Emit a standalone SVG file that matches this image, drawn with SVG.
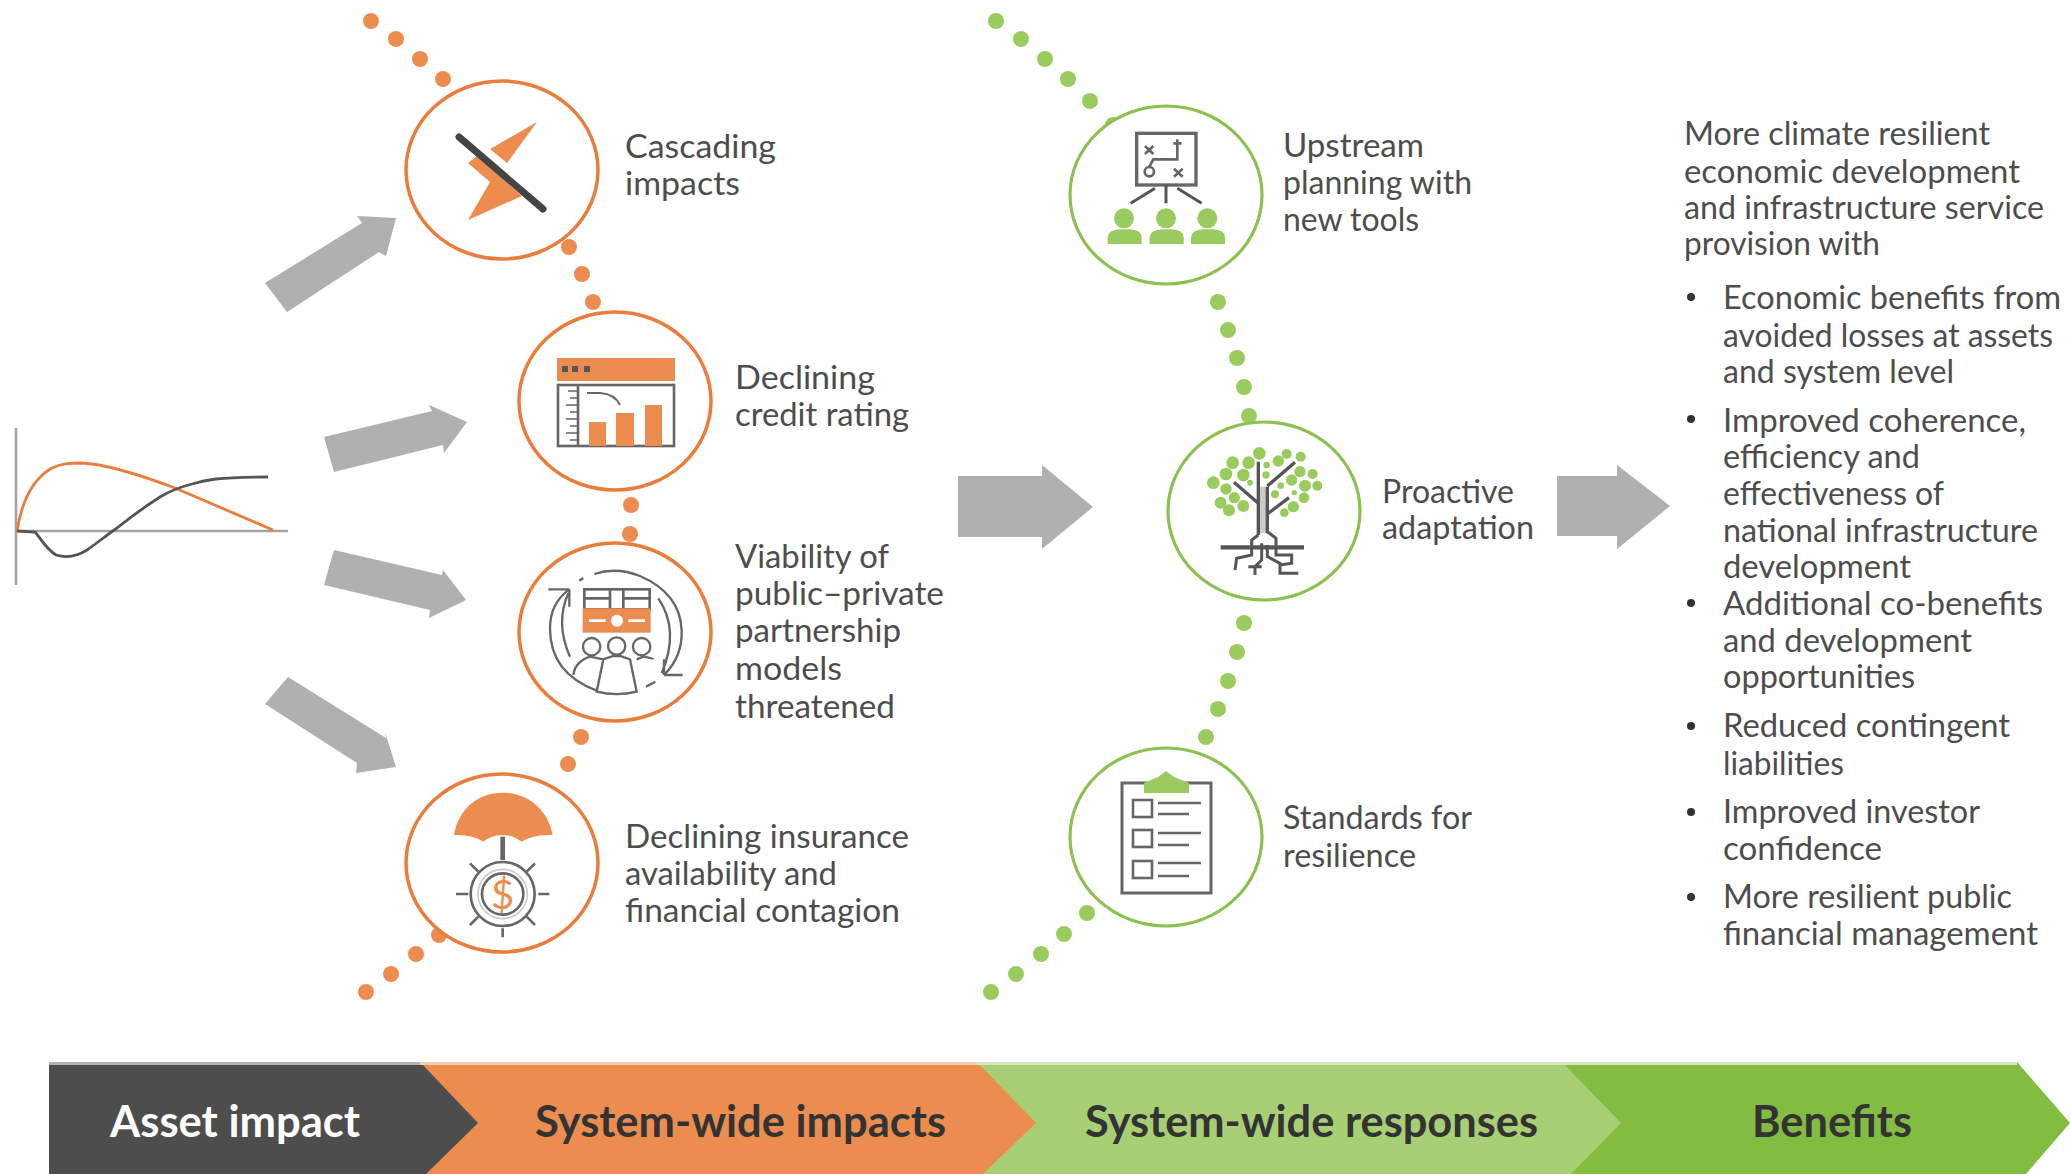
<svg xmlns="http://www.w3.org/2000/svg" width="2070" height="1174" viewBox="0 0 2070 1174">
<style>
text{font-family:"Lato","Liberation Sans",sans-serif;font-size:33.5px;fill:#4d4d4d}
.r text{font-size:32.5px}
.bn{font-weight:700;font-size:43.5px;fill:#333}
.o{fill:#ec8d4f}.g{fill:#9acb5f}.ar{fill:#b0b0b0}
.ro{fill:#fff;stroke:#ea7d3c;stroke-width:3.5}
.rg{fill:#fff;stroke:#8cc152;stroke-width:3.2}
.k{fill:none;stroke:#666;stroke-linecap:butt;stroke-linejoin:miter}
.b{fill:#333}
</style>
<rect width="2070" height="1174" fill="#fff"/>
<g id="chart" fill="none">
<path d="M16 428V585M16 531H288" stroke="#a3a3a3" stroke-width="2.6"/>
<path d="M17 531C22 500 34 478 52 468C62 463 72 463 82 463C105 464 135 473 175 488L273 530" stroke="#ea7d3c" stroke-width="2.8"/>
<path d="M17 531L35 532C42 540 46 549 56 555C66 558 76 557 87 550C97 543 107 535 117 528C132 516 146 506 160 497C170 491 180 487 192 484C205 480 217 477 268 477" stroke="#555" stroke-width="2.8"/>
</g>
<g id="connectors">
<g class="ar">
<polygon points="265,283 287,312 379,252 386,256 396,218 357,216 362,223"/>
<polygon points="324,437 334,472 443,445 444,453 467,422 429,405 432,411"/>
<polygon points="334,550 324,585 430,610 429,618 466,600 443,570 442,575"/>
<polygon points="288,677 265,704 357,763 356,773 396,767 385,732 386,738"/>
<polygon points="958,476 1042,476 1042,465 1093,507 1042,549 1042,537 958,537"/>
<polygon points="1557,476 1617,476 1617,465 1670,506 1617,549 1617,536 1557,536"/>
</g>
<g class="o">
<circle cx="371" cy="21" r="8"/><circle cx="396" cy="39" r="8"/><circle cx="420" cy="59" r="8"/><circle cx="443" cy="79" r="8"/>
<circle cx="569" cy="247" r="8"/><circle cx="582" cy="274" r="8"/><circle cx="593" cy="302" r="8"/>
<circle cx="631" cy="505" r="8"/><circle cx="630" cy="534" r="8"/>
<circle cx="581" cy="737" r="8"/><circle cx="568" cy="764" r="8"/>
<circle cx="439" cy="935" r="8"/><circle cx="416" cy="954" r="8"/><circle cx="391" cy="974" r="8"/><circle cx="366" cy="992" r="8"/>
</g>
<g class="g">
<circle cx="996" cy="21" r="8"/><circle cx="1021" cy="39" r="8"/><circle cx="1045" cy="59" r="8"/><circle cx="1068" cy="79" r="8"/><circle cx="1090" cy="101" r="8"/><circle cx="1113" cy="125" r="8"/>
<circle cx="1204" cy="268" r="8"/><circle cx="1218" cy="302" r="8"/><circle cx="1228" cy="330" r="8"/><circle cx="1237" cy="358" r="8"/><circle cx="1244" cy="387" r="8"/><circle cx="1249" cy="416" r="8"/>
<circle cx="1244" cy="623" r="8"/><circle cx="1237" cy="652" r="8"/><circle cx="1228" cy="681" r="8"/><circle cx="1218" cy="709" r="8"/><circle cx="1206" cy="737" r="8"/>
<circle cx="1087" cy="913" r="8"/><circle cx="1064" cy="934" r="8"/><circle cx="1041" cy="954" r="8"/><circle cx="1016" cy="974" r="8"/><circle cx="991" cy="992" r="8"/>
</g>
</g>
<g id="node-cascading">
<ellipse class="ro" cx="502" cy="170" rx="96" ry="89"/>
<polygon class="o" points="537,122 490,149 507,163"/>
<polygon class="o" points="468,163 477,156 522,196 468,220 490,182"/>
<path d="M459 137L543 209" stroke="#444" stroke-width="7" stroke-linecap="round"/>
<text x="625" y="158" textLength="151" lengthAdjust="spacingAndGlyphs">Cascading</text><text x="625" y="195" textLength="115" lengthAdjust="spacingAndGlyphs">impacts</text>
</g>
<g id="node-credit">
<ellipse class="ro" cx="615" cy="401" rx="96" ry="89"/>
<rect class="o" x="557" y="358" width="118" height="23"/>
<g fill="#555"><rect x="562" y="366" width="6" height="6"/><rect x="572" y="366" width="6" height="6"/><rect x="584" y="366" width="6" height="6"/></g>
<rect class="k" x="558" y="385" width="116" height="61" stroke-width="2.6"/>
<path class="k" d="M578 385V446" stroke-width="2.6"/>
<path class="k" d="M568 391H578M570 398H578M566 405H578M570 412H578M566 419H578M570 426H578M566 433H578M570 440H578" stroke-width="1.6"/>
<path class="k" d="M587 393H600Q615 394 620 405" stroke-width="2"/>
<rect class="o" x="589" y="422" width="17" height="24"/><rect class="o" x="616" y="413" width="18" height="33"/><rect class="o" x="645" y="405" width="17" height="41"/>
<text x="735" y="389" textLength="140" lengthAdjust="spacingAndGlyphs">Declining</text><text x="735" y="426" textLength="174" lengthAdjust="spacingAndGlyphs">credit rating</text>
</g>
<g id="node-ppp">
<ellipse class="ro" cx="615" cy="632" rx="96" ry="89"/>
<g transform="translate(540 560) scale(.3333)">
<rect class="k" x="133" y="88" width="196" height="60" stroke-width="8"/>
<path class="k" d="M133 115H210M250 115H329M210 88V148M250 88V148" stroke-width="8"/>
<rect class="o" x="128" y="145" width="204" height="73"/>
<circle cx="231" cy="182" r="18" fill="#fff"/>
<path d="M147 182H197M265 182H315" stroke="#fff" stroke-width="8"/>
<g class="k" stroke-width="7"><circle cx="155" cy="260" r="26"/><circle cx="230" cy="258" r="26"/><circle cx="305" cy="260" r="26"/>
<path d="M190 298L170 395Q230 410 290 395L270 298L240 288H220ZM100 345Q105 305 150 290L190 298M290 298L310 290Q340 295 340 298"/>
<path d="M163 42Q230 20 300 48Q420 100 425 210Q428 290 372 345M372 345V298M372 345H428"/>
<path d="M355 115Q420 210 365 340"/>
<path d="M88 88H25M88 88V140M88 88Q30 130 30 205Q30 340 170 392"/>
<path d="M85 100Q45 190 90 290"/>
<path d="M118 62L130 54M318 380L346 365"/></g>
</g>
<text x="735" y="568" textLength="154" lengthAdjust="spacingAndGlyphs">Viability of</text><text x="735" y="605" textLength="209" lengthAdjust="spacingAndGlyphs">public–private</text><text x="735" y="642" textLength="166" lengthAdjust="spacingAndGlyphs">partnership</text><text x="735" y="680" textLength="107" lengthAdjust="spacingAndGlyphs">models</text><text x="735" y="718" textLength="160" lengthAdjust="spacingAndGlyphs">threatened</text>
</g>
<g id="node-insurance">
<ellipse class="ro" cx="502" cy="863" rx="96" ry="89"/>
<g transform="translate(430 780) scale(.3333)">
<path class="o" d="M72 165C85 90 140 38 218 38C295 38 355 90 368 165Q310 162 275 185Q250 165 218 165Q185 165 160 185Q125 162 72 165Z"/>
<path class="k" d="M218 170V240" stroke-width="14"/>
<g class="k" stroke-width="8"><circle cx="218" cy="342" r="96"/><circle cx="218" cy="342" r="62"/>
<path d="M218 445V472M78 342H115M325 342H358M120 250L145 275M315 250L290 275M120 435L145 410M315 435L290 410"/></g>
<circle cx="218" cy="342" r="74" fill="none" stroke="#ccc" stroke-width="5"/>
<text x="218" y="386" text-anchor="middle" style="font-size:120px;fill:#ec8d4f">$</text>
</g>
<text x="625" y="848" textLength="284" lengthAdjust="spacingAndGlyphs">Declining insurance</text><text x="625" y="885" textLength="212" lengthAdjust="spacingAndGlyphs">availability and</text><text x="625" y="922" textLength="275" lengthAdjust="spacingAndGlyphs">financial contagion</text>
</g>
<g id="node-upstream">
<ellipse class="rg" cx="1166" cy="195" rx="96" ry="89"/>
<g transform="translate(1090 120) scale(.3333)">
<rect class="k" x="140" y="40" width="178" height="155" stroke-width="10"/>
<path class="k" d="M165 78L190 102M190 78L165 102M252 146L278 170M278 146L252 170M178 140L190 118H262V75M250 70H275M262 58V82" stroke-width="8"/>
<circle class="k" cx="178" cy="155" r="14" stroke-width="8"/>
<path class="k" d="M228 195V250M195 205L122 250M262 205L335 250" stroke-width="9" style="stroke:#555"/>
<g class="g"><circle cx="102" cy="295" r="30"/><circle cx="228" cy="295" r="30"/><circle cx="352" cy="295" r="30"/>
<path d="M53 372V352Q55 330 90 328H118Q155 330 155 352V372Z"/><path d="M179 372V352Q181 330 216 328H244Q281 330 281 352V372Z"/><path d="M303 372V352Q305 330 340 328H368Q405 330 405 352V372Z"/></g>
</g>
<text x="1283" y="157" textLength="141" lengthAdjust="spacingAndGlyphs">Upstream</text><text x="1283" y="194" textLength="189" lengthAdjust="spacingAndGlyphs">planning with</text><text x="1283" y="231" textLength="136" lengthAdjust="spacingAndGlyphs">new tools</text>
</g>
<g id="node-proactive">
<ellipse class="rg" cx="1264" cy="511" rx="96" ry="89"/>
<g transform="translate(1190 430) scale(.3333)">
<g class="g"><circle cx="208" cy="70" r="19"/><circle cx="128" cy="98" r="19"/><circle cx="176" cy="98" r="19"/><circle cx="290" cy="72" r="15"/><circle cx="332" cy="80" r="15"/><circle cx="265" cy="93" r="17"/><circle cx="230" cy="105" r="10"/><circle cx="108" cy="132" r="19"/><circle cx="160" cy="135" r="19"/><circle cx="228" cy="135" r="11"/><circle cx="330" cy="125" r="17"/><circle cx="368" cy="132" r="15"/><circle cx="70" cy="158" r="19"/><circle cx="180" cy="158" r="9"/><circle cx="305" cy="150" r="17"/><circle cx="108" cy="177" r="17"/><circle cx="345" cy="167" r="18"/><circle cx="382" cy="167" r="15"/><circle cx="272" cy="167" r="10"/><circle cx="133" cy="203" r="17"/><circle cx="255" cy="193" r="12"/><circle cx="313" cy="188" r="8"/><circle cx="342" cy="203" r="16"/><circle cx="92" cy="218" r="18"/><circle cx="160" cy="228" r="18"/><circle cx="117" cy="241" r="18"/><circle cx="310" cy="230" r="17"/><circle cx="283" cy="248" r="13"/></g>
<rect x="205" y="170" width="27" height="140" fill="#ccc"/>
<path class="k" style="stroke:#555" d="M205 95V315M232 170V310M232 168L315 97M205 220L132 157M232 252L297 203" stroke-width="10"/>
<path class="k" style="stroke:#555" d="M92 352H342" stroke-width="13"/>
<path class="k" style="stroke:#555" d="M205 315L185 330V375L140 385L135 420M215 340V390L195 410V435M175 410H215M232 305L258 325V375H305V400L270 405M232 345V380L270 400V430H325" stroke-width="9"/>
</g>
<text x="1382" y="503" textLength="132" lengthAdjust="spacingAndGlyphs">Proactive</text><text x="1382" y="539" textLength="152" lengthAdjust="spacingAndGlyphs">adaptation</text>
</g>
<g id="node-standards">
<ellipse class="rg" cx="1166" cy="837" rx="96" ry="89"/>
<rect class="k" x="1122" y="783" width="89" height="110" stroke-width="3"/>
<path class="g" d="M1144 793V783L1158 777L1166 771L1174 777L1189 783V793Z"/>
<g class="k" stroke-width="2.6"><rect x="1133" y="800" width="19" height="17"/><rect x="1133" y="830" width="19" height="17"/><rect x="1133" y="861" width="19" height="17"/>
<path d="M1158 803H1201M1158 814H1189M1158 833H1201M1158 845H1189M1158 863H1201M1158 876H1189"/></g>
<text x="1283" y="829" textLength="189" lengthAdjust="spacingAndGlyphs">Standards for</text><text x="1283" y="867" textLength="133" lengthAdjust="spacingAndGlyphs">resilience</text>
</g>
<g id="node-benefits" class="r">
<text x="1684" y="145" textLength="306" lengthAdjust="spacingAndGlyphs">More climate resilient</text><text x="1684" y="183" textLength="336" lengthAdjust="spacingAndGlyphs">economic development</text><text x="1684" y="219" textLength="360" lengthAdjust="spacingAndGlyphs">and infrastructure service</text><text x="1684" y="255" textLength="196" lengthAdjust="spacingAndGlyphs">provision with</text>
<g class="b"><circle cx="1691" cy="297" r="4"/><circle cx="1691" cy="419" r="4"/><circle cx="1691" cy="603" r="4"/><circle cx="1691" cy="726" r="4"/><circle cx="1691" cy="812" r="4"/><circle cx="1691" cy="897" r="4"/></g>
<text x="1723" y="309" textLength="338" lengthAdjust="spacingAndGlyphs">Economic benefits from</text><text x="1723" y="347" textLength="330" lengthAdjust="spacingAndGlyphs">avoided losses at assets</text><text x="1723" y="383" textLength="231" lengthAdjust="spacingAndGlyphs">and system level</text>
<text x="1723" y="432" textLength="303" lengthAdjust="spacingAndGlyphs">Improved coherence,</text><text x="1723" y="468" textLength="197" lengthAdjust="spacingAndGlyphs">efficiency and</text><text x="1723" y="505" textLength="221" lengthAdjust="spacingAndGlyphs">effectiveness of</text><text x="1723" y="542" textLength="315" lengthAdjust="spacingAndGlyphs">national infrastructure</text><text x="1723" y="578" textLength="188" lengthAdjust="spacingAndGlyphs">development</text>
<text x="1723" y="615" textLength="320" lengthAdjust="spacingAndGlyphs">Additional co-benefits</text><text x="1723" y="652" textLength="249" lengthAdjust="spacingAndGlyphs">and development</text><text x="1723" y="688" textLength="192" lengthAdjust="spacingAndGlyphs">opportunities</text>
<text x="1723" y="737" textLength="287" lengthAdjust="spacingAndGlyphs">Reduced contingent</text><text x="1723" y="775" textLength="121" lengthAdjust="spacingAndGlyphs">liabilities</text>
<text x="1723" y="823" textLength="257" lengthAdjust="spacingAndGlyphs">Improved investor</text><text x="1723" y="860" textLength="159" lengthAdjust="spacingAndGlyphs">confidence</text>
<text x="1723" y="908" textLength="289" lengthAdjust="spacingAndGlyphs">More resilient public</text><text x="1723" y="945" textLength="315" lengthAdjust="spacingAndGlyphs">financial management</text>
</g>
<g id="banner">
<polygon points="1562,1062 2017,1062 2070,1123 2070,1123 2026,1174 1562,1174" fill="#82bc41"/>
<polygon points="977,1062 1562,1062 1621,1123 1571,1174 977,1174" fill="#a8cf74"/>
<polygon points="420,1062 977,1062 1036,1123 983,1174 420,1174" fill="#ec8d4f"/>
<polygon points="49,1062 420,1062 478,1123 426,1174 49,1174" fill="#4d4d4d"/>
<rect x="49" y="1062" width="371" height="3" fill="#b3b1b1"/><rect x="420" y="1062" width="557" height="3" fill="#f6cdb2"/><rect x="977" y="1062" width="1040" height="3" fill="#d7e8c0"/>
<text class="bn" x="110" y="1137" style="fill:#fff" textLength="250" lengthAdjust="spacingAndGlyphs">Asset impact</text>
<text class="bn" x="535" y="1137" textLength="411" lengthAdjust="spacingAndGlyphs">System-wide impacts</text>
<text class="bn" x="1085" y="1137" textLength="453" lengthAdjust="spacingAndGlyphs">System-wide responses</text>
<text class="bn" x="1752" y="1137" textLength="160" lengthAdjust="spacingAndGlyphs">Benefits</text>
</g>
</svg>
